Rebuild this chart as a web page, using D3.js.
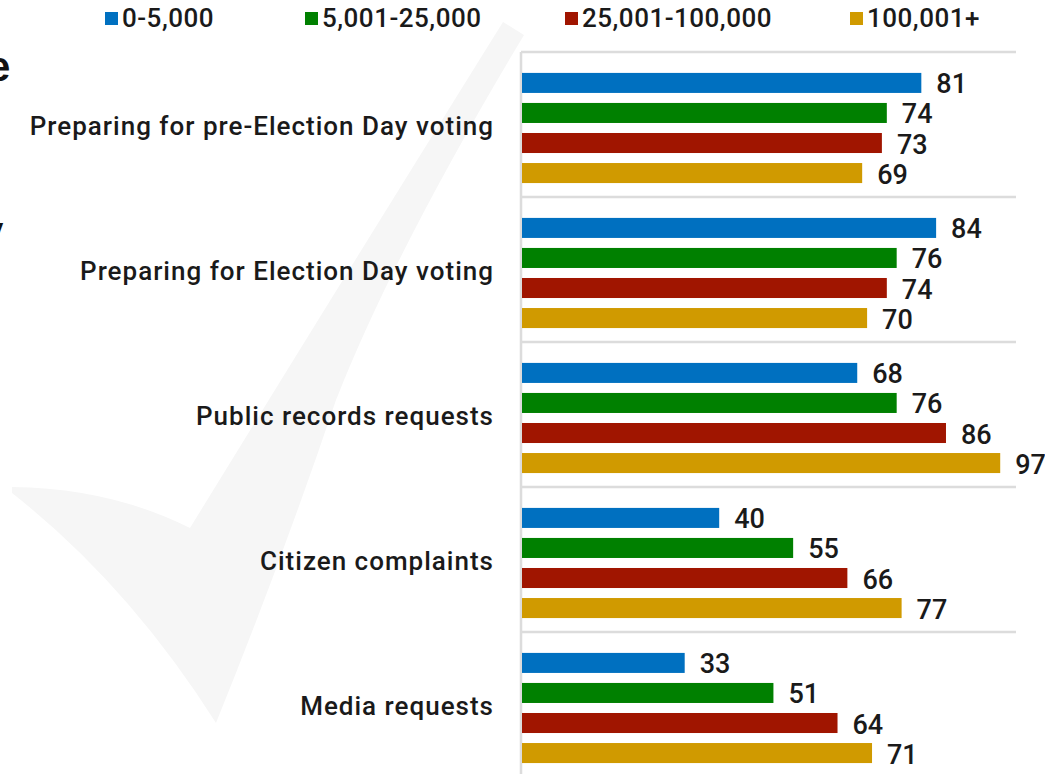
<!DOCTYPE html>
<html>
<head>
<meta charset="utf-8">
<script src="https://cdn.jsdelivr.net/npm/d3@7"></script>
<style>
  html, body { margin: 0; padding: 0; background: #ffffff; }
  svg { display: block; }
</style>
</head>
<body>
<svg id="chart" width="1045" height="774"></svg>
<script>
// Task categories (top to bottom)
const categories = [
  "Preparing for pre-Election Day voting",
  "Preparing for Election Day voting",
  "Public records requests",
  "Citizen complaints",
  "Media requests"
];

// Jurisdiction size groups
const seriesNames = ["0-5,000", "5,001-25,000", "25,001-100,000", "100,001+"];

// Percent of offices, one array per size group, in category order
const small   = [81, 84, 68, 40, 33];
const medium  = [74, 76, 76, 55, 51];
const large   = [73, 74, 86, 66, 64];
const largest = [69, 70, 97, 77, 71];

const seriesValues = [small, medium, large, largest];
const seriesColors = ["#0070c0", "#008000", "#a01500", "#d09a00"];

const svg = d3.select("#chart");
const W = 1045, H = 774;
const labelFont = "Roboto, 'Noto Sans', sans-serif";

// faint check-mark watermark behind the chart
svg.append("path")
  .attr("d", "M12,487 Q110,488 190,528 Q330,300 503,22 L524,35 Q395,250 336,400 Q282,560 216,723 Q128,584 12,493 Z")
  .attr("fill", "#f6f6f6");

// cropped heading fragments at the left edge
svg.append("text").attr("x", -13).attr("y", 81)
  .attr("font-family", "'Liberation Sans', Arial, sans-serif")
  .attr("font-weight", 700).attr("font-size", 42).attr("fill", "#111")
  .text("e");
svg.append("text").attr("x", -20).attr("y", 246)
  .attr("font-family", "'Liberation Sans', Arial, sans-serif")
  .attr("font-weight", 700).attr("font-size", 42).attr("fill", "#111")
  .text("y");

// scales
const x = d3.scaleLinear().domain([0, 100]).range([522, 1015]);
const y = d3.scaleBand().domain(categories).range([52, 777]).padding(0);
const yInner = d3.scaleBand().domain(seriesNames).range([0, y.bandwidth()])
  .paddingInner(1 / 3).paddingOuter(0.58).align(0.6);

// separators between categories
const seps = categories.map(c => y(c));
svg.append("g").selectAll("line").data(seps).join("line")
  .attr("x1", x(0) - 1).attr("x2", x(100) + 1)
  .attr("y1", d => d).attr("y2", d => d)
  .attr("stroke", "#dcdcdc").attr("stroke-width", 2.5);

// vertical baseline
svg.append("line")
  .attr("x1", x(0) - 1).attr("x2", x(0) - 1)
  .attr("y1", y(categories[0])).attr("y2", H)
  .attr("stroke", "#dcdcdc").attr("stroke-width", 2.5);

// bars + value labels
const rows = [];
categories.forEach((c, ci) => {
  seriesNames.forEach((s, si) => {
    rows.push({ cat: c, series: s, value: seriesValues[si][ci], color: seriesColors[si] });
  });
});

const barG = svg.append("g");
barG.selectAll("rect").data(rows).join("rect")
  .attr("x", x(0))
  .attr("y", d => y(d.cat) + yInner(d.series))
  .attr("width", d => x(d.value) - x(0))
  .attr("height", yInner.bandwidth())
  .attr("fill", d => d.color);

barG.selectAll("text").data(rows).join("text")
  .attr("x", d => x(d.value) + 15)
  .attr("y", d => y(d.cat) + yInner(d.series) + yInner.bandwidth() / 2 + 10.5)
  .attr("font-family", labelFont)
  .attr("font-weight", 500)
  .attr("font-size", 27)
  .attr("fill", "#1a1a1a")
  .text(d => d.value);

// category labels
svg.append("g").selectAll("text").data(categories).join("text")
  .attr("x", 494)
  .attr("y", d => y(d) + y.bandwidth() / 2 + 10)
  .attr("text-anchor", "end")
  .attr("font-family", labelFont)
  .attr("font-weight", 500)
  .attr("font-size", 26)
  .attr("letter-spacing", 1)
  .attr("fill", "#1a1a1a")
  .text(d => d);

// legend
const legendX = [105, 305, 565, 850];
const lg = svg.append("g").selectAll("g").data(seriesNames).join("g")
  .attr("transform", (d, i) => `translate(${legendX[i]},0)`);
lg.append("rect").attr("x", 0).attr("y", 12).attr("width", 13).attr("height", 13)
  .attr("fill", (d, i) => seriesColors[i]);
lg.append("text").attr("x", 17).attr("y", 27)
  .attr("font-family", labelFont)
  .attr("font-weight", 500)
  .attr("font-size", 26)
  .attr("letter-spacing", 0.5)
  .attr("fill", "#1a1a1a")
  .text(d => d);
</script>
</body>
</html>
